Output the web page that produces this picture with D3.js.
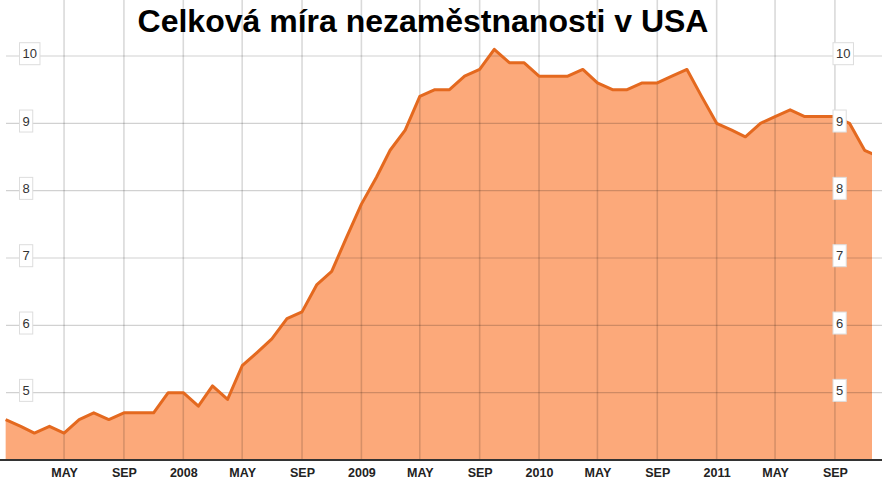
<!DOCTYPE html>
<html>
<head>
<meta charset="utf-8">
<script src="https://cdn.jsdelivr.net/npm/d3@7/dist/d3.min.js"></script>
<style>
html,body{margin:0;padding:0;background:#fff;}
svg{display:block;}
</style>
</head>
<body>
<svg id="chart" width="887" height="481"></svg>
<script>
// Monthly US unemployment rate (%), Jan 2007 – Dec 2011
const months = d3.timeMonths(new Date(2007,0,1), new Date(2012,0,1));
const rate2007 = [4.6,4.5,4.4,4.5,4.4,4.6,4.7,4.6,4.7,4.7,4.7,5.0];
const rate2008 = [5.0,4.8,5.1,4.9,5.4,5.6,5.8,6.1,6.2,6.6,6.8,7.3];
const rate2009 = [7.8,8.2,8.6,8.9,9.4,9.5,9.5,9.7,9.8,10.1,9.9,9.9];
const rate2010 = [9.7,9.7,9.7,9.8,9.6,9.5,9.5,9.6,9.6,9.7,9.8,9.4];
const rate2011 = [9.0,8.9,8.8,9.0,9.1,9.2,9.1,9.1,9.1,9.0,8.6,8.5];
const rates = [].concat(rate2007, rate2008, rate2009, rate2010, rate2011);
const yTicks = [5,6,7,8,9,10];
const xTickDates = [
  new Date(2007,4,1), new Date(2007,8,1), new Date(2008,0,1),
  new Date(2008,4,1), new Date(2008,8,1), new Date(2009,0,1),
  new Date(2009,4,1), new Date(2009,8,1), new Date(2010,0,1),
  new Date(2010,4,1), new Date(2010,8,1), new Date(2011,0,1),
  new Date(2011,4,1), new Date(2011,8,1)
];
const xTickLabels = ["MAY","SEP","2008","MAY","SEP","2009","MAY","SEP","2010","MAY","SEP","2011","MAY","SEP"];
const title = "Celková míra nezaměstnanosti v USA";

const data = months.map((d,i)=>({date:d, v:rates[i]}));

const svg = d3.select("#chart");
const x = d3.scaleTime().domain([new Date(2007,0,1), new Date(2011,11,1)]).range([5.66, 879.2]);
const y = d3.scaleLinear().domain([4,10]).range([460,56]);
const clipRight = 872;

svg.append("defs").append("clipPath").attr("id","plotclip")
  .append("rect").attr("x",0).attr("y",0).attr("width",clipRight).attr("height",460);

// area fill
const area = d3.area().x(d=>x(d.date)).y0(y(4)).y1(d=>y(d.v));
svg.append("path").datum(data).attr("clip-path","url(#plotclip)")
  .attr("d",area).attr("fill","#fca97a");

// grid
const grid = svg.append("g");
grid.selectAll("line.v").data(xTickDates).enter().append("line")
  .attr("x1",d=>x(d)).attr("x2",d=>x(d)).attr("y1",0).attr("y2",460)
  .attr("stroke","#000").attr("stroke-opacity",0.15).attr("stroke-width",1.6);
grid.selectAll("line.h").data(yTicks).enter().append("line")
  .attr("x1",6).attr("x2",882).attr("y1",d=>y(d)).attr("y2",d=>y(d))
  .attr("stroke","#000").attr("stroke-opacity",0.18).attr("stroke-width",1.2);

// line
const line = d3.line().x(d=>x(d.date)).y(d=>y(d.v));
svg.append("path").datum(data).attr("clip-path","url(#plotclip)")
  .attr("d",line).attr("fill","none").attr("stroke","#e4691f")
  .attr("stroke-width",3).attr("stroke-linejoin","round");

// bottom axis
const xAxis = d3.axisBottom(x).tickValues(xTickDates)
  .tickFormat((d,i)=>xTickLabels[i]).tickSize(0).tickPadding(8);
const gx = svg.append("g").attr("transform","translate(0,460)").call(xAxis);
gx.select(".domain").remove();
gx.selectAll("text").attr("font-family","Liberation Sans, Arial, sans-serif")
  .attr("font-size","12.5px").attr("font-weight","bold").attr("fill","#222");
svg.append("line").attr("x1",0).attr("x2",882).attr("y1",460).attr("y2",460)
  .attr("stroke","#333").attr("stroke-width",2);

// y labels in boxes (left and right)
function yLabels(xLeft){
  const g = svg.append("g");
  yTicks.forEach(t=>{
    const cy = y(t) - 2.3;
    const txt = g.append("text").attr("x",xLeft+3).attr("y",cy)
      .attr("dy","0.36em").attr("font-family","Liberation Sans, Arial, sans-serif")
      .attr("font-size","13px").attr("fill","#333").text(t);
    const w = txt.node().getComputedTextLength();
    g.insert("rect","text").attr("x",xLeft).attr("y",cy-11).attr("width",w+6).attr("height",22)
      .attr("fill","#fff").attr("stroke","#ddd").attr("stroke-width",1);
  });
}
yLabels(19.5);
yLabels(833);

// title
svg.append("text").attr("x",423).attr("y",32).attr("text-anchor","middle")
  .attr("font-family","Liberation Sans, Arial, sans-serif").attr("font-weight","bold")
  .attr("font-size","32px").attr("fill","#000").text(title);
</script>
</body>
</html>
